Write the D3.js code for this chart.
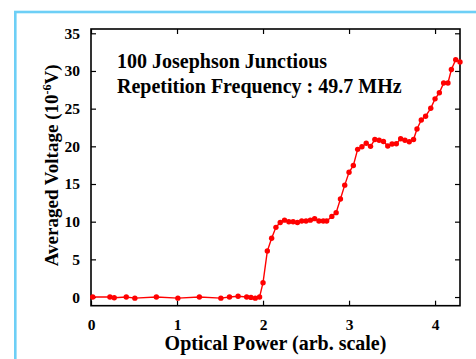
<!DOCTYPE html>
<html><head><meta charset="utf-8">
<script src="https://cdn.jsdelivr.net/npm/d3@7"></script>
<style>html,body{margin:0;padding:0;background:#fff;}svg{display:block;}</style>
</head><body>
<script>
const power = [0.02,0.22,0.27,0.41,0.51,0.76,1.01,1.26,1.51,1.61,1.71,1.81,1.86,1.91,1.96,2.00,2.05,2.10,2.15,2.20,2.25,2.30,2.35,2.40,2.45,2.50,2.55,2.60,2.65,2.70,2.74,2.80,2.85,2.90,2.95,3.00,3.05,3.10,3.15,3.20,3.25,3.30,3.35,3.40,3.45,3.50,3.55,3.60,3.65,3.70,3.75,3.79,3.84,3.89,3.95,4.00,4.05,4.10,4.15,4.19,4.24,4.29];
const voltage = [0,0,-0.1,0,-0.15,0,-0.15,0,-0.15,0,0.1,0,-0.05,-0.15,0,1.9,6.1,7.8,9.25,9.9,10.2,10.0,10.0,9.9,10.1,10.1,10.2,10.4,10.1,10.1,10.1,10.7,11.2,13.0,14.85,16.55,17.45,19.6,19.95,20.4,20.0,20.9,20.8,20.65,20.05,20.3,20.35,21.0,20.8,20.6,20.9,22.3,23.5,24.0,25.05,26.3,27.1,28.4,28.4,30.2,31.5,31.2];
const xTicks = [0,1,2,3,4];
const yTicks = [0,5,10,15,20,25,30,35];
const titleLines = ["100 Josephson Junctious","Repetition Frequency : 49.7 MHz"];

const W = 476, H = 359;
const L = 91, R = 460, T = 29, B = 305.7;
const svg = d3.select("body").append("svg").attr("width", W).attr("height", H);
const font = "'Liberation Serif','Times New Roman',serif";

// blue outer frame
svg.append("rect").attr("x", 15.3).attr("y", 12).attr("width", 500).attr("height", 400)
  .attr("fill", "none").attr("stroke", "#6dcff6").attr("stroke-width", 2.6);

const x = d3.scaleLinear().domain([0, 4.29]).range([L, R]);
const y = d3.scaleLinear().domain([-1.15, 35.57]).range([B, T]);

const tl = 5;
const gx = svg.append("g").attr("transform", `translate(0,${B})`)
  .call(d3.axisBottom(x).tickValues(xTicks).tickSize(-tl).tickPadding(tl + 8).tickFormat(d3.format("d")));
const gxt = svg.append("g").attr("transform", `translate(0,${T})`)
  .call(d3.axisTop(x).tickValues(xTicks).tickSize(-tl).tickFormat(""));
const gy = svg.append("g").attr("transform", `translate(${L},0)`)
  .call(d3.axisLeft(y).tickValues(yTicks).tickSize(-tl).tickPadding(tl + 6).tickFormat(d3.format("d")));
const gyr = svg.append("g").attr("transform", `translate(${R},0)`)
  .call(d3.axisRight(y).tickValues(yTicks).tickSize(-tl).tickFormat(""));
[gx, gxt, gy, gyr].forEach(g => {
  g.select(".domain").remove();
  g.selectAll(".tick line").attr("stroke", "#000").attr("stroke-width", 1.2);
  g.selectAll("text").attr("font-family", font).attr("font-weight", "bold").attr("font-size", 15.5).attr("fill", "#000");
});

// frame
svg.append("rect").attr("x", L).attr("y", T).attr("width", R - L).attr("height", B - T)
  .attr("fill", "none").attr("stroke", "#000").attr("stroke-width", 1.6);

const data = power.map((p, i) => ({p, v: voltage[i]}));
svg.append("path").datum(data)
  .attr("d", d3.line().x(d => x(d.p)).y(d => y(d.v)))
  .attr("fill", "none").attr("stroke", "#ff0000").attr("stroke-width", 1.4);
svg.append("g").selectAll("circle").data(data).join("circle")
  .attr("cx", d => x(d.p)).attr("cy", d => y(d.v)).attr("r", 2.7).attr("fill", "#ff0000");

// annotation
svg.append("g").selectAll("text").data(titleLines).join("text")
  .attr("x", 117).attr("y", (d, i) => 67.5 + i * 25.5)
  .attr("font-family", font).attr("font-weight", "bold").attr("font-size", 20)
  .attr("fill", "#000").text(d => d);

// axis titles
svg.append("text").attr("x", 275.5).attr("y", 350).attr("text-anchor", "middle")
  .attr("font-family", font).attr("font-weight", "bold").attr("font-size", 20)
  .text("Optical Power (arb. scale)");
const yl = svg.append("text").attr("transform", `translate(58,${(T + B) / 2 - 2}) rotate(-90)`)
  .attr("text-anchor", "middle").attr("font-family", font).attr("font-weight", "bold").attr("font-size", 19);
yl.append("tspan").text("Averaged Voltage (10");
yl.append("tspan").attr("dy", -7).attr("font-size", 12).text("-6");
yl.append("tspan").attr("dy", 7).text("V)");
</script>
</body></html>
